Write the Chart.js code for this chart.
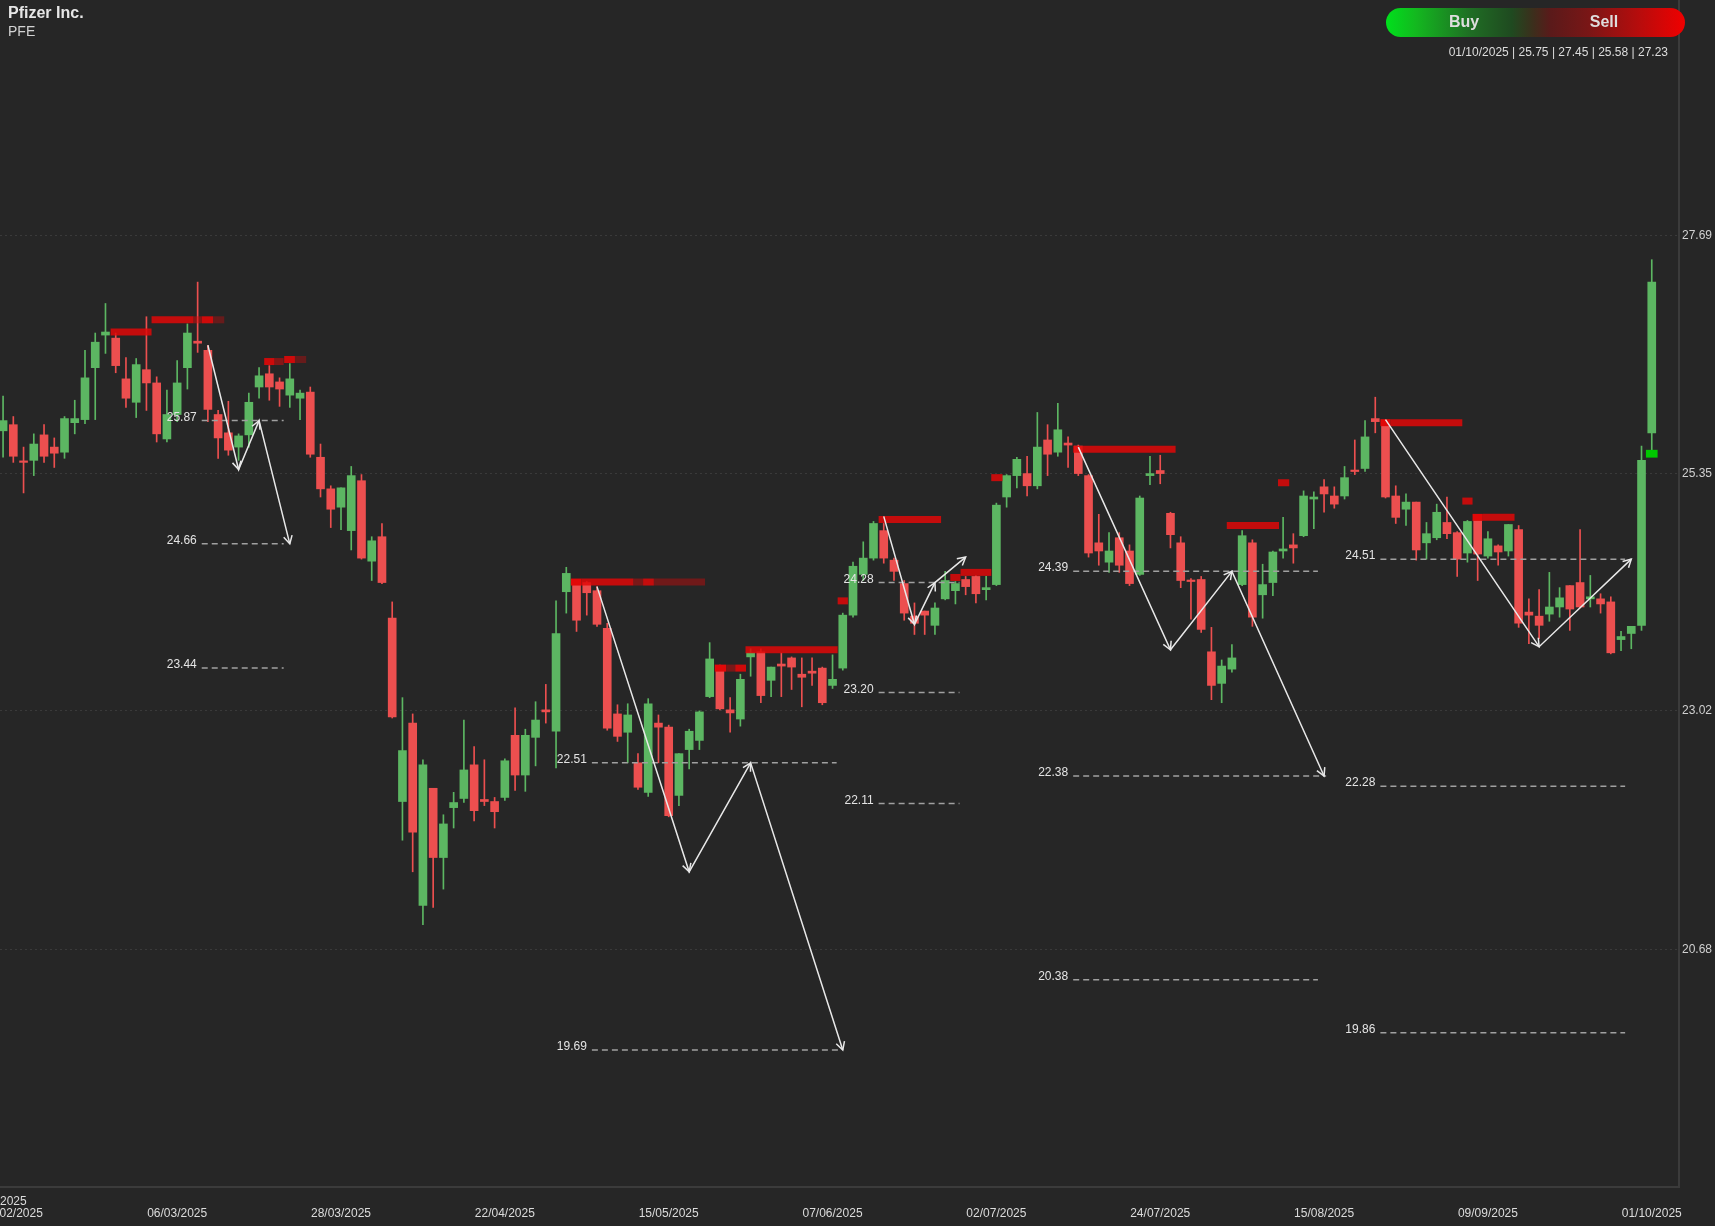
<!DOCTYPE html>
<html>
<head>
<meta charset="utf-8">
<script src="https://cdn.jsdelivr.net/npm/chart.js@4.4.1/dist/chart.umd.min.js"></script>
<style>
  html, body { margin: 0; padding: 0; background: #262626; }
  body { font-family: "Liberation Sans", Arial, sans-serif; }
  #wrap { position: relative; width: 1715px; height: 1226px; overflow: hidden; }
  canvas { display: block; }
  .title { position: absolute; left: 8px; top: 5px; font-size: 16px; line-height: 16px; font-weight: bold; color: #e6e6e6; }
  .ticker { position: absolute; left: 8px; top: 24px; font-size: 14px; line-height: 14px; color: #d2d2d2; }
  .pill {
    position: absolute; left: 1386px; top: 8px; width: 299px; height: 29px; border-radius: 15px;
    background: linear-gradient(to right, #00e01c 0%, #13b81f 10%, #1f6e24 28%, #1f4a20 42%, #3b2f1c 49%, #5a1a1a 55%, #7a1616 68%, #b80c0c 85%, #f00000 100%);
  }
  .pill span { position: absolute; top: 0; line-height: 27px; font-size: 16px; font-weight: bold; color: #dedede; transform: translateX(-50%); }
  .info { position: absolute; right: 47px; top: 46px; font-size: 12px; line-height: 12px; color: #dddddd; white-space: nowrap; }
</style>
</head>
<body>
<div id="wrap">
  <canvas id="priceChart" width="1715" height="1226"></canvas>
  <div class="title">Pfizer Inc.</div>
  <div class="ticker">PFE</div>
  <div class="pill"><span style="left:78px">Buy</span><span style="left:218px">Sell</span></div>
  <div class="info">01/10/2025 | 25.75 | 27.45 | 25.58 | 27.23</div>
</div>
<script>
// daily candles, index 0 .. 161 (last = 01/10/2025)
const candleOpen = [
  25.77, 25.83, 25.47, 25.48, 25.73, 25.61, 25.56, 25.85, 25.88, 26.39,
  26.71, 26.68, 26.28, 26.05, 26.37, 26.24, 25.69, 25.93, 26.39, 26.65,
  26.56, 25.93, 25.75, 25.61, 25.73, 26.20, 26.33, 26.25, 26.12, 26.09,
  26.15, 25.51, 25.20, 25.02, 24.79, 25.28, 24.49, 24.73, 23.93, 22.13,
  22.90, 21.11, 22.26, 21.58, 22.07, 22.16, 22.49, 22.15, 22.13, 22.17,
  22.78, 22.39, 22.76, 23.03, 22.82, 24.19, 24.29, 24.28, 24.20, 23.83,
  22.99, 22.81, 22.51, 22.22, 22.90, 22.86, 22.19, 22.64, 22.73, 23.16,
  23.46, 23.03, 22.94, 23.55, 23.60, 23.32, 23.48, 23.54, 23.38, 23.41,
  23.44, 23.27, 23.44, 23.96, 24.36, 24.52, 24.79, 24.50, 24.27, 23.95,
  24.00, 23.86, 24.12, 24.20, 24.31, 24.34, 24.21, 24.26, 25.12, 25.33,
  25.35, 25.23, 25.68, 25.56, 25.65, 25.62, 25.33, 24.67, 24.48, 24.72,
  24.59, 24.36, 25.33, 25.38, 24.96, 24.67, 24.30, 24.31, 23.60, 23.29,
  23.43, 24.26, 24.67, 24.16, 24.28, 24.59, 24.65, 24.74, 25.10, 25.22,
  25.13, 25.13, 25.38, 25.40, 25.89, 25.87, 25.13, 25.00, 25.07, 24.67,
  24.72, 24.87, 24.77, 24.57, 24.89, 24.54, 24.64, 24.59, 24.80, 23.99,
  23.95, 23.97, 24.04, 24.25, 24.28, 24.12, 24.12, 24.09, 23.72, 23.78,
  23.86, 25.75
];
const candleHigh = [
  26.11, 25.91, 25.61, 25.74, 25.83, 25.70, 25.91, 26.07, 26.56, 26.73,
  27.02, 26.73, 26.49, 26.48, 26.89, 26.30, 26.17, 26.46, 26.82, 27.23,
  26.61, 25.97, 26.06, 25.74, 26.14, 26.39, 26.41, 26.29, 26.43, 26.17,
  26.20, 25.64, 25.23, 25.21, 25.42, 25.34, 24.73, 24.86, 24.09, 23.15,
  22.99, 22.54, 22.26, 22.00, 22.22, 22.93, 22.67, 22.54, 22.17, 22.55,
  23.05, 22.84, 23.11, 23.28, 24.10, 24.43, 24.31, 24.29, 24.24, 23.88,
  23.08, 23.09, 22.60, 23.14, 22.98, 22.88, 22.60, 22.84, 23.02, 23.69,
  23.47, 23.15, 23.38, 23.63, 23.63, 23.45, 23.59, 23.55, 23.54, 23.54,
  23.45, 23.57, 23.98, 24.48, 24.68, 24.88, 24.86, 24.52, 24.30, 24.08,
  24.00, 24.08, 24.39, 24.29, 24.34, 24.35, 24.34, 25.06, 25.34, 25.51,
  25.52, 25.95, 25.83, 26.04, 25.71, 25.63, 25.34, 24.95, 24.77, 24.77,
  24.65, 25.13, 25.52, 25.53, 24.97, 24.73, 24.32, 24.34, 23.84, 23.52,
  23.67, 24.79, 24.70, 24.46, 24.59, 24.92, 24.76, 25.18, 25.17, 25.29,
  25.22, 25.42, 25.68, 25.87, 26.10, 25.88, 25.23, 25.15, 25.07, 24.87,
  25.05, 25.12, 24.78, 24.89, 24.90, 24.78, 24.65, 24.85, 24.84, 24.12,
  24.21, 24.38, 24.23, 24.25, 24.80, 24.35, 24.17, 24.14, 23.80, 23.85,
  25.62, 27.45
];
const candleLow = [
  25.51, 25.46, 25.16, 25.33, 25.46, 25.41, 25.50, 25.74, 25.84, 25.88,
  26.53, 26.34, 26.00, 25.90, 25.97, 25.66, 25.66, 25.86, 26.18, 26.54,
  25.86, 25.50, 25.53, 25.48, 25.61, 26.09, 26.07, 26.01, 26.00, 25.88,
  25.51, 25.12, 24.82, 24.80, 24.60, 24.51, 24.30, 24.27, 22.95, 21.75,
  21.44, 20.92, 21.09, 21.27, 21.87, 22.12, 21.94, 22.09, 21.87, 22.14,
  22.24, 22.23, 22.48, 22.90, 22.46, 23.98, 23.80, 23.96, 23.85, 22.83,
  22.72, 22.51, 22.25, 22.18, 22.51, 21.98, 22.09, 22.45, 22.64, 23.15,
  23.03, 22.81, 22.87, 23.36, 23.10, 23.16, 23.16, 23.23, 23.06, 23.27,
  23.08, 23.24, 23.42, 23.94, 24.30, 24.50, 24.47, 24.30, 23.91, 23.77,
  23.77, 23.77, 24.11, 24.07, 24.16, 24.08, 24.11, 24.25, 25.02, 25.21,
  25.13, 25.20, 25.33, 25.52, 25.41, 25.33, 24.53, 24.45, 24.38, 24.38,
  24.25, 24.35, 25.24, 25.25, 24.62, 24.23, 23.92, 23.79, 23.13, 23.10,
  23.40, 24.25, 23.85, 23.93, 24.15, 24.52, 24.47, 24.73, 24.81, 24.97,
  25.01, 25.10, 25.34, 25.37, 25.75, 25.11, 24.86, 24.84, 24.50, 24.51,
  24.70, 24.71, 24.34, 24.48, 24.30, 24.52, 24.45, 24.54, 23.84, 23.68,
  23.73, 23.90, 23.94, 23.81, 24.03, 24.04, 23.98, 23.58, 23.61, 23.63,
  23.81, 25.58
];
const candleClose = [
  25.87, 25.52, 25.46, 25.64, 25.52, 25.55, 25.89, 25.89, 26.29, 26.64,
  26.74, 26.41, 26.09, 26.42, 26.24, 25.74, 25.93, 26.24, 26.73, 26.63,
  25.98, 25.70, 25.58, 25.72, 26.05, 26.31, 26.20, 26.18, 26.28, 26.14,
  25.54, 25.20, 25.00, 25.21, 25.33, 24.52, 24.69, 24.28, 22.96, 22.63,
  21.83, 22.49, 21.58, 21.91, 22.12, 22.44, 22.04, 22.13, 22.03, 22.53,
  22.39, 22.78, 22.93, 23.01, 23.78, 24.37, 23.91, 24.18, 23.87, 22.85,
  22.77, 22.98, 22.27, 23.09, 22.86, 21.99, 22.60, 22.82, 23.01, 23.53,
  23.04, 23.00, 23.33, 23.59, 23.17, 23.45, 23.46, 23.45, 23.35, 23.39,
  23.10, 23.33, 23.96, 24.44, 24.52, 24.86, 24.52, 24.39, 23.98, 23.88,
  23.96, 24.03, 24.30, 24.27, 24.24, 24.17, 24.23, 25.04, 25.33, 25.49,
  25.23, 25.61, 25.54, 25.78, 25.63, 25.35, 24.57, 24.59, 24.59, 24.45,
  24.27, 25.11, 25.35, 25.35, 24.75, 24.30, 24.29, 23.82, 23.27, 23.46,
  23.54, 24.74, 23.94, 24.26, 24.58, 24.61, 24.62, 25.13, 25.12, 25.15,
  25.05, 25.31, 25.37, 25.71, 25.86, 25.12, 24.92, 25.07, 24.60, 24.76,
  24.97, 24.76, 24.51, 24.88, 24.56, 24.71, 24.58, 24.85, 23.88, 23.96,
  23.86, 24.04, 24.13, 24.02, 24.04, 24.14, 24.07, 23.59, 23.75, 23.85,
  25.48, 27.23
];

const xTickIdx = [1, 17, 33, 49, 65, 81, 97, 113, 129, 145, 161];
const xTickLabels = ['11/02/2025', '06/03/2025', '28/03/2025', '22/04/2025', '15/05/2025', '07/06/2025',
  '02/07/2025', '24/07/2025', '15/08/2025', '09/09/2025', '01/10/2025'];
const yearLabel = '2025';
const yTicks = [20.68, 23.02, 25.35, 27.69];

// supply zones: start/end bar index, price, strength
const zoneFrom = [10.5, 14.5, 18.6, 19.4, 20.5, 25.5, 26.5, 27.45, 28.5, 55.45, 56.5, 61.55, 62.5, 63.55,
  69.5, 70.6, 71.5, 72.5, 81.5, 85.5, 92.5, 93.5, 96.5, 104.5, 119.5, 124.5, 134.5, 135.5, 142.5, 143.5, 144.5];
const zoneTo = [14.5, 18.6, 19.4, 20.5, 21.6, 26.5, 27.4, 28.5, 29.6, 56.5, 61.55, 62.5, 63.55, 68.55,
  70.6, 71.5, 72.55, 81.5, 82.5, 91.6, 93.5, 96.5, 97.6, 114.5, 124.6, 125.6, 135.5, 142.5, 143.5, 144.5, 147.6];
const zoneLevel = [26.74, 26.86, 26.86, 26.86, 26.86, 26.45, 26.45, 26.47, 26.47, 24.285, 24.285, 24.285, 24.285, 24.285,
  23.44, 23.44, 23.44, 23.62, 24.10, 24.90, 24.33, 24.38, 25.31, 25.59, 24.84, 25.26, 25.85, 25.85, 25.08, 24.92, 24.92];
const zoneStrength = [0.85, 0.85, 0.5, 0.9, 0.35, 0.9, 0.5, 0.9, 0.35, 1, 0.85, 0.45, 0.85, 0.4,
  1, 0.45, 0.9, 0.85, 0.85, 0.85, 0.85, 0.85, 0.85, 0.85, 0.85, 0.85, 1, 0.85, 0.85, 1, 0.85];

// projected target levels
const levelFrom = [19.4, 19.4, 19.4, 57.5, 57.5, 85.5, 85.5, 85.5, 104.5, 104.5, 104.5, 134.5, 134.5, 134.5];
const levelTo = [27.4, 27.4, 27.4, 81.4, 81.9, 93.4, 93.4, 93.4, 128.4, 129.2, 128.4, 158.4, 158.4, 158.4];
const levelPrice = [25.87, 24.66, 23.44, 22.51, 19.69, 24.28, 23.20, 22.11, 24.39, 22.38, 20.38, 24.51, 22.28, 19.86];

// projection zigzags
const zigzagIdx = [[20, 23, 25, 28], [58, 67, 73, 82], [86, 89, 91, 94], [105, 114, 120, 129], [135, 150, 159]];
const zigzagPrice = [[26.61, 25.39, 25.87, 24.66], [24.24, 21.44, 22.51, 19.69], [24.93, 23.87, 24.28, 24.53],
  [25.61, 23.62, 24.39, 22.38], [25.88, 23.65, 24.51]];

// signal marker on last bar
const signalIdx = [161];
const signalLow = [25.51];
const signalHigh = [25.58];

const FONT = '"Liberation Sans", Arial, sans-serif';
Chart.defaults.font.family = FONT;

const upColor = '#5cb662';
const downColor = '#ec4f4f';
const candleColors = candleOpen.map((o, i) => candleClose[i] >= o ? upColor : downColor);
const xLabelPad = 19;

const datasets = [
  {
    type: 'bar',
    data: candleOpen.map((_, i) => ({ x: i, y: [candleLow[i], candleHigh[i]] })),
    backgroundColor: candleColors,
    barThickness: 1, maxBarThickness: 1, grouped: false, order: 9
  },
  {
    type: 'bar',
    data: candleOpen.map((o, i) => ({ x: i, y: [o, candleClose[i]] })),
    backgroundColor: candleColors,
    barThickness: 8, maxBarThickness: 8, grouped: false, minBarLength: 1.5, order: 8
  },
  {
    type: 'bar',
    data: signalIdx.map((x, i) => ({ x, y: [signalLow[i], signalHigh[i]] })),
    backgroundColor: '#00c800',
    barThickness: 11, maxBarThickness: 11, grouped: false, order: 7
  }
];

levelPrice.forEach((p, i) => {
  datasets.push({
    type: 'line',
    data: [{ x: levelFrom[i], y: p }, { x: levelTo[i], y: p }],
    borderColor: '#a0a0a0', borderWidth: 1.5, borderDash: [6, 4],
    pointRadius: 0, fill: false, order: 3
  });
});

zoneLevel.forEach((p, i) => {
  const a = zoneStrength[i];
  datasets.push({
    type: 'line',
    data: [{ x: zoneFrom[i], y: p }, { x: zoneTo[i], y: p }],
    borderColor: `rgba(225, 8, 8, ${a})`, borderWidth: 7, borderCapStyle: 'butt',
    pointRadius: 0, fill: false, order: 2
  });
});

zigzagIdx.forEach((xs, k) => {
  datasets.push({
    type: 'line',
    data: xs.map((x, j) => ({ x, y: zigzagPrice[k][j] })),
    borderColor: '#e8e8e8', borderWidth: 1.5,
    pointRadius: 0, fill: false, tension: 0, order: 1
  });
});

// arrow heads at each leg end of the zigzags
const arrowHeads = {
  id: 'arrowHeads',
  afterDatasetsDraw(chart) {
    const { ctx, scales: { x, y } } = chart;
    ctx.save();
    ctx.strokeStyle = '#e8e8e8';
    ctx.lineWidth = 1.5;
    zigzagIdx.forEach((xs, k) => {
      for (let j = 1; j < xs.length; j++) {
        const x0 = x.getPixelForValue(xs[j - 1]), y0 = y.getPixelForValue(zigzagPrice[k][j - 1]);
        const x1 = x.getPixelForValue(xs[j]), y1 = y.getPixelForValue(zigzagPrice[k][j]);
        const ang = Math.atan2(y1 - y0, x1 - x0);
        const len = 9, spread = 0.5;
        ctx.beginPath();
        ctx.moveTo(x1 - len * Math.cos(ang - spread), y1 - len * Math.sin(ang - spread));
        ctx.lineTo(x1, y1);
        ctx.lineTo(x1 - len * Math.cos(ang + spread), y1 - len * Math.sin(ang + spread));
        ctx.stroke();
      }
    });
    ctx.restore();
  }
};

// price labels left of the dashed levels
const levelLabels = {
  id: 'levelLabels',
  afterDatasetsDraw(chart) {
    const { ctx, scales: { x, y } } = chart;
    ctx.save();
    ctx.font = '12px ' + FONT;
    ctx.fillStyle = '#e4e4e4';
    ctx.textAlign = 'right';
    ctx.textBaseline = 'alphabetic';
    levelPrice.forEach((p, i) => {
      ctx.fillText(p.toFixed(2), x.getPixelForValue(levelFrom[i]) - 5, y.getPixelForValue(p));
    });
    ctx.restore();
  }
};

// year marker above the first date label
const yearMark = {
  id: 'yearMark',
  afterDraw(chart) {
    const { ctx, scales: { x } } = chart;
    ctx.save();
    ctx.font = '12px ' + FONT;
    ctx.fillStyle = '#dcdcdc';
    ctx.textAlign = 'center';
    ctx.textBaseline = 'middle';
    ctx.fillText(yearLabel, x.getPixelForValue(xTickIdx[0]), x.top + xLabelPad + 7 - 11);
    ctx.restore();
  }
};

new Chart(document.getElementById('priceChart'), {
  type: 'bar',
  data: { datasets },
  options: {
    responsive: false,
    animation: false,
    devicePixelRatio: 1,
    layout: { padding: 0 },
    plugins: { legend: { display: false }, tooltip: { enabled: false } },
    scales: {
      x: {
        type: 'linear',
        min: -0.3,
        max: 163.66,
        offset: false,
        grid: { display: false, drawTicks: false },
        border: { display: true, color: '#3b3b3b', width: 2 },
        afterBuildTicks: s => { s.ticks = xTickIdx.map(v => ({ value: v })); },
        afterFit: s => { s.height = 39; s.paddingLeft = 0; s.paddingRight = 0; },
        ticks: {
          autoSkip: false, maxRotation: 0, minRotation: 0, padding: xLabelPad,
          color: '#dcdcdc', font: { size: 12 },
          callback: (v, i) => xTickLabels[i]
        }
      },
      y: {
        type: 'linear',
        position: 'right',
        min: 18.345,
        max: 30.0,
        grid: { color: '#3a3a3a', lineWidth: 1, drawTicks: false },
        border: { display: true, color: '#3b3b3b', width: 2, dash: [2, 3] },
        afterBuildTicks: s => { s.ticks = yTicks.map(v => ({ value: v })); },
        afterFit: s => { s.width = 36; s.paddingTop = 0; s.paddingBottom = 0; },
        ticks: {
          padding: 3, color: '#d0d0d0', font: { size: 12 },
          callback: v => v.toFixed(2)
        }
      }
    }
  },
  plugins: [arrowHeads, levelLabels, yearMark]
});
</script>
</body>
</html>
